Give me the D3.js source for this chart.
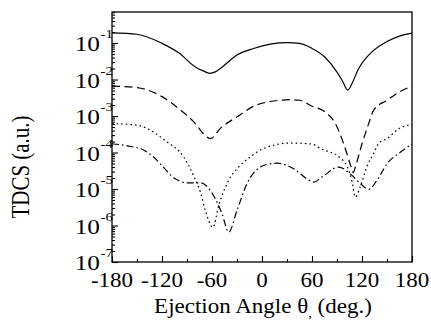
<!DOCTYPE html>
<html>
<head>
<meta charset="utf-8">
<script src="https://cdn.jsdelivr.net/npm/d3@7"></script>
<style>
  body { margin: 0; background: #fff; }
  text { font-family: "Liberation Serif", "Times New Roman", serif; fill: #000; }
</style>
</head>
<body>
<div class="canvas"></div>
<script>
// ---- DATA --- //
const angleTicks = [-180, -120, -60, 0, 60, 120, 180];
const minorAngleTicks = [-150, -90, -30, 30, 90, 150];
const decadeTicks = [1e-7, 1e-6, 1e-5, 1e-4, 1e-3, 1e-2, 1e-1];
const decadeExps = ['-7', '-6', '-5', '-4', '-3', '-2', '-1'];

// solid curve
const solidAngle = [-180, -150, -120, -100, -80, -70, -63, -56, -50, -30, -10, 10, 30, 45, 60, 75, 90, 97, 103, 109, 115, 130, 150, 165, 180];
const solidTdcs  = [1.9e-1, 1.74e-1, 9.8e-2, 5.4e-2, 2.2e-2, 1.7e-2, 1.48e-2, 1.62e-2, 2.0e-2, 4.7e-2, 7.1e-2, 9.3e-2, 1.02e-1, 9.8e-2, 7.1e-2, 4.2e-2, 1.6e-2, 8.7e-3, 5.1e-3, 8.7e-3, 1.8e-2, 5.2e-2, 1.1e-1, 1.55e-1, 1.86e-1];

// dashed curve
const dashAngle = [-180, -150, -120, -100, -80, -70, -62, -50, -30, -10, 10, 35, 45, 60, 74, 88, 98, 107, 109.5, 112, 120, 128, 134, 150, 165, 180];
const dashTdcs  = [6.6e-3, 6.0e-3, 3.4e-3, 1.6e-3, 6.2e-4, 3.2e-4, 2.4e-4, 4.6e-4, 9.5e-4, 1.86e-3, 2.5e-3, 2.8e-3, 2.7e-3, 1.86e-3, 1.38e-3, 6.2e-4, 1.74e-4, 4.0e-5, 2.8e-5, 4.0e-5, 1.74e-4, 6.2e-4, 1.45e-3, 2.7e-3, 4.6e-3, 6.6e-3];

// dotted curve
const dotAngle = [-180, -150, -134, -116, -94, -82, -74, -68, -59, -52, -40, -28, -14, 2, 34, 60, 70, 94, 102, 108, 112, 118, 126, 134, 140, 150, 165, 180];
const dotTdcs  = [6.2e-4, 5.6e-4, 4.1e-4, 2.1e-4, 7.6e-5, 2.3e-5, 8.3e-6, 2.6e-6, 8.9e-7, 3.5e-6, 1.74e-5, 4.0e-5, 7.6e-5, 1.29e-4, 1.82e-4, 1.7e-4, 1.29e-4, 7.1e-5, 4.2e-5, 1.62e-5, 6.0e-6, 1.15e-5, 4.2e-5, 9.5e-5, 1.78e-4, 2.4e-4, 4.6e-4, 5.9e-4];

// dash-dot curve
const dashDotAngle = [-180, -160, -142, -128, -122, -104, -90, -74, -62, -48, -40, -30, -18, -2, 10, 18, 38, 54, 62, 74, 92, 106, 118, 128, 138, 150, 166, 180];
const dashDotTdcs  = [1.74e-4, 1.5e-4, 1.17e-4, 6.8e-5, 4.9e-5, 1.9e-5, 1.48e-5, 1.48e-5, 9.1e-6, 2.1e-6, 6.6e-7, 2.6e-6, 1.41e-5, 4.0e-5, 4.9e-5, 5.1e-5, 3.6e-5, 1.9e-5, 1.55e-5, 2.3e-5, 4.0e-5, 2.6e-5, 1.41e-5, 9.8e-6, 1.74e-5, 4.9e-5, 1.02e-4, 1.7e-4];

const series = [
  { angle: solidAngle, tdcs: solidTdcs, dash: null },
  { angle: dashAngle, tdcs: dashTdcs, dash: '8,4.5' },
  { angle: dotAngle, tdcs: dotTdcs, dash: '1.6,3' },
  { angle: dashDotAngle, tdcs: dashDotTdcs, dash: '7,3,1.6,3' }
];

// ---- SETUP --- //
const width = 431, height = 332;
const plot = { left: 112, right: 412, top: 12, bottom: 262 };
const stretch = 1.15;

const svg = d3.select('.canvas')
  .append('svg')
  .attr('width', width)
  .attr('height', height);

const x = d3.scaleLinear().domain([-180, 180]).range([plot.left, plot.right]);
const y = d3.scaleLog().domain([1e-7, Math.pow(10, -0.15)]).range([plot.bottom, plot.top]);

// ---- AXES (ticks point inward) --- //
const minorY = [];
for (let e = -7; e < 0; e++) {
  for (let m = 2; m <= 9; m++) {
    const v = m * Math.pow(10, e);
    if (v <= y.domain()[1]) minorY.push(v);
  }
}

svg.append('g')
  .attr('transform', `translate(${plot.left},0)`)
  .call(d3.axisLeft(y).tickValues(minorY).tickSize(-3).tickFormat(''))
  .call(g => g.select('.domain').remove());

svg.append('g')
  .attr('transform', `translate(${plot.left},0)`)
  .call(d3.axisLeft(y).tickValues(decadeTicks).tickSize(-6).tickFormat(''))
  .call(g => g.select('.domain').remove());

svg.append('g')
  .attr('transform', `translate(0,${plot.bottom})`)
  .call(d3.axisBottom(x).tickValues(minorAngleTicks).tickSize(-3).tickFormat(''))
  .call(g => g.select('.domain').remove());

svg.append('g')
  .attr('transform', `translate(0,${plot.bottom})`)
  .call(d3.axisBottom(x).tickValues(angleTicks).tickSize(-6).tickFormat(''))
  .call(g => g.select('.domain').remove());

svg.selectAll('.tick line').attr('stroke', '#000').attr('stroke-width', 1.1);

// frame
svg.append('rect')
  .attr('x', plot.left)
  .attr('y', plot.top)
  .attr('width', plot.right - plot.left)
  .attr('height', plot.bottom - plot.top)
  .attr('fill', 'none')
  .attr('stroke', '#000')
  .attr('stroke-width', 1.3);

// x tick labels
svg.selectAll('.xlab')
  .data(angleTicks)
  .enter().append('text')
  .attr('class', 'xlab')
  .attr('transform', d => `translate(${x(d)},287) scale(${stretch},1)`)
  .attr('text-anchor', 'middle')
  .style('font-size', '20px')
  .text(d => d);

// y tick labels: 10 with superscript
const ylab = svg.selectAll('.ylab')
  .data(decadeTicks)
  .enter().append('g')
  .attr('class', 'ylab')
  .attr('transform', d => `translate(100,${y(d) + 8}) scale(${stretch},1)`);

ylab.append('text')
  .attr('text-anchor', 'end')
  .style('font-size', '22px')
  .text('10');

ylab.append('text')
  .attr('x', 0.5)
  .attr('y', -13)
  .style('font-size', '13px')
  .text((d, i) => decadeExps[i]);

// ---- CURVES --- //
const line = d3.line()
  .x(d => x(d[0]))
  .y(d => y(d[1]))
  .curve(d3.curveMonotoneX);

series.forEach(s => {
  svg.append('path')
    .datum(s.angle.map((a, i) => [a, s.tdcs[i]]))
    .attr('d', line)
    .attr('fill', 'none')
    .attr('stroke', '#000')
    .attr('stroke-width', 1.2)
    .attr('stroke-dasharray', s.dash);
});

// ---- TITLES --- //
const xt = svg.append('text')
  .attr('transform', `translate(263,313) scale(${stretch},1)`)
  .attr('text-anchor', 'middle')
  .style('font-size', '20px');
xt.append('tspan').text('Ejection Angle θ');
xt.append('tspan').attr('dy', 4).style('font-size', '13px').text(',');
xt.append('tspan').attr('dy', -4).text(' (deg.)');

svg.append('text')
  .attr('transform', 'translate(29,167) rotate(-90) scale(1,1.15)')
  .attr('text-anchor', 'middle')
  .style('font-size', '21px')
  .text('TDCS (a.u.)');
</script>
</body>
</html>
